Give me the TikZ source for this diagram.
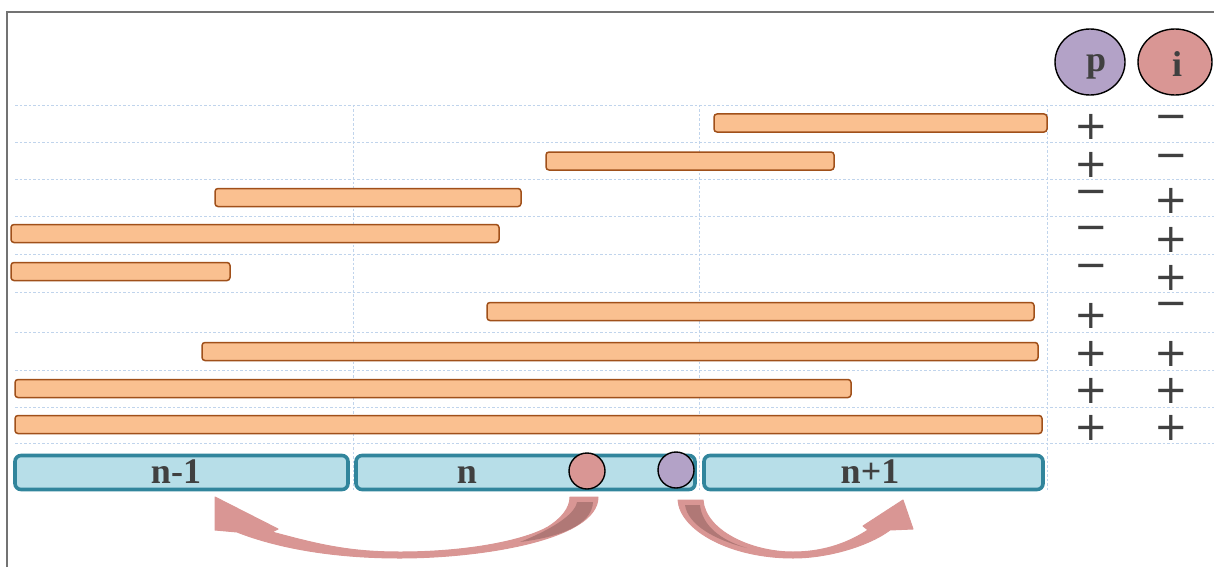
\documentclass[tikz,border=0pt]{standalone}
\usepackage{fontspec}
\usetikzlibrary{shapes.geometric}
\setmainfont{Liberation Serif}
\newfontfamily\signfont{DejaVu Sans}
\definecolor{barfill}{HTML}{FAC090}
\definecolor{bardraw}{HTML}{A0501A}
\definecolor{boxfill}{HTML}{B7DEE8}
\definecolor{boxdraw}{HTML}{31859C}
\definecolor{redc}{HTML}{D99694}
\definecolor{purc}{HTML}{B3A2C7}
\definecolor{gridc}{HTML}{C0D4EC}
\definecolor{txtc}{HTML}{404040}
\definecolor{arrowc}{HTML}{D99694}
\definecolor{arrowd}{HTML}{B07876}
\begin{document}
\begin{tikzpicture}[x=1pt,y=-1pt,
  bar/.style={draw=bardraw, fill=barfill, line width=1.5pt, rounded corners=3pt, inner sep=0pt, outer sep=0pt, minimum height=18pt},
  cell/.style={draw=boxdraw, fill=boxfill, line width=3.6pt, rounded corners=6pt, inner sep=0pt, outer sep=0pt, minimum height=34pt},
  lbl/.style={font=\fontsize{36}{40}\selectfont\bfseries, text=txtc, inner sep=0pt, anchor=base},
  sgn/.style={font=\signfont\fontsize{40}{44}\selectfont, text=txtc, inner sep=0pt, anchor=base, text height=25pt, text depth=0pt},
  grid/.style={draw=gridc, line width=0.8pt, dash pattern=on 2.5pt off 2pt},
  dot/.style={circle, draw=black, line width=1.4pt, minimum size=36pt, inner sep=0pt},
  head/.style={ellipse, draw=black, line width=1.4pt, inner sep=0pt},
  arr/.style={fill=arrowc, draw=arrowc, line width=1pt, line join=round},
  arrdark/.style={fill=arrowd, draw=none}
]
\useasboundingbox (0,0) rectangle (1214,567);
% frame
\draw[color=black!55, line width=2pt] (7,567) -- (7,12) -- (1214,12);
% grid
\foreach \y in {105,142,179,216,254,292,332,370,407,443}
  \draw[grid] (15,\y) -- (1214,\y);
\foreach \x in {353,699,1047}
  \draw[grid] (\x,105) -- (\x,490);
% bars
\node[bar, minimum width=333pt] (b1) at (880.5,123) {};
\node[bar, minimum width=288pt] (b2) at (690,161) {};
\node[bar, minimum width=306pt] (b3) at (368,197.5) {};
\node[bar, minimum width=488pt] (b4) at (255,233.5) {};
\node[bar, minimum width=219pt] (b5) at (120.5,271.5) {};
\node[bar, minimum width=547pt] (b6) at (760.5,311.5) {};
\node[bar, minimum width=836pt] (b7) at (620,351.5) {};
\node[bar, minimum width=836pt] (b8) at (433,388.5) {};
\node[bar, minimum width=1027pt] (b9) at (528.5,424.5) {};
% cells
\node[cell, minimum width=333pt] (c1) at (181.5,472.5) {};
\node[cell, minimum width=339pt] (c2) at (525.5,472.5) {};
\node[cell, minimum width=339pt] (c3) at (873.5,472.5) {};
\node[lbl] (l1) at (176,483) {n-1};
\node[lbl] (l2) at (467,483) {n};
\node[lbl] (l3) at (870,483) {n+1};
% dots
\node[dot, fill=redc] (dr) at (587,471) {};
\node[dot, fill=purc] (dp) at (676,470) {};
% headers
\node[head, fill=purc, minimum width=70pt, minimum height=66pt] (hp) at (1090,62) {};
\node[head, fill=redc, minimum width=74pt, minimum height=66pt] (hi) at (1175,62) {};
\node[lbl] (tp) at (1096,72) {p};
\node[lbl] (ti) at (1177,77) {i};
% signs
\def\off{12.5}
\foreach \x/\y/\s [count=\k] in {
  1091/127/+, 1171/117/−,
  1091/165/+, 1171/156/−,
  1091/192/−, 1171/201/+,
  1091/228/−, 1171/240/+,
  1091/266/−, 1171/278/+,
  1091/316/+, 1171/304/−,
  1091/354/+, 1171/354/+,
  1091/391/+, 1171/391/+,
  1091/428/+, 1171/428/+}
  \node[sgn] (s\k) at (\x,\y+\off) {\s};
% left curved arrow
\coordinate (la) at (584,497);
\coordinate (lb) at (215,497);
\path[arr] (598,497) .. controls (598,540) and (480,558) .. (400,558)
  .. controls (330,558) and (275,547) .. (237,532) -- (215,530) -- (lb)
  -- (278,529) -- (272,532) .. controls (320,545) and (350,552) .. (400,552)
  .. controls (470,552) and (525,540) .. (548,527)
  .. controls (562,518) and (570,508) .. (570,497) -- cycle;
\path[arrdark] (577,502) -- (593,502) .. controls (592,525) and (560,537) .. (520,542)
  .. controls (550,530) and (575,515) .. (577,502) -- cycle;
% right curved arrow
\coordinate (ra) at (690,500);
\coordinate (rb) at (903,500);
\path[arr] (678,500) .. controls (680,530) and (730,558) .. (793,558)
  .. controls (830,558) and (870,545) .. (890,530) -- (913,529) -- (rb)
  -- (863,526) -- (868,530) .. controls (845,545) and (820,552) .. (793,552)
  .. controls (750,552) and (705,530) .. (703,500) -- cycle;
\path[arrdark] (685,505) -- (700,505) .. controls (702,525) and (720,540) .. (747,548)
  .. controls (715,540) and (688,525) .. (685,505) -- cycle;
\end{tikzpicture}
\end{document}
